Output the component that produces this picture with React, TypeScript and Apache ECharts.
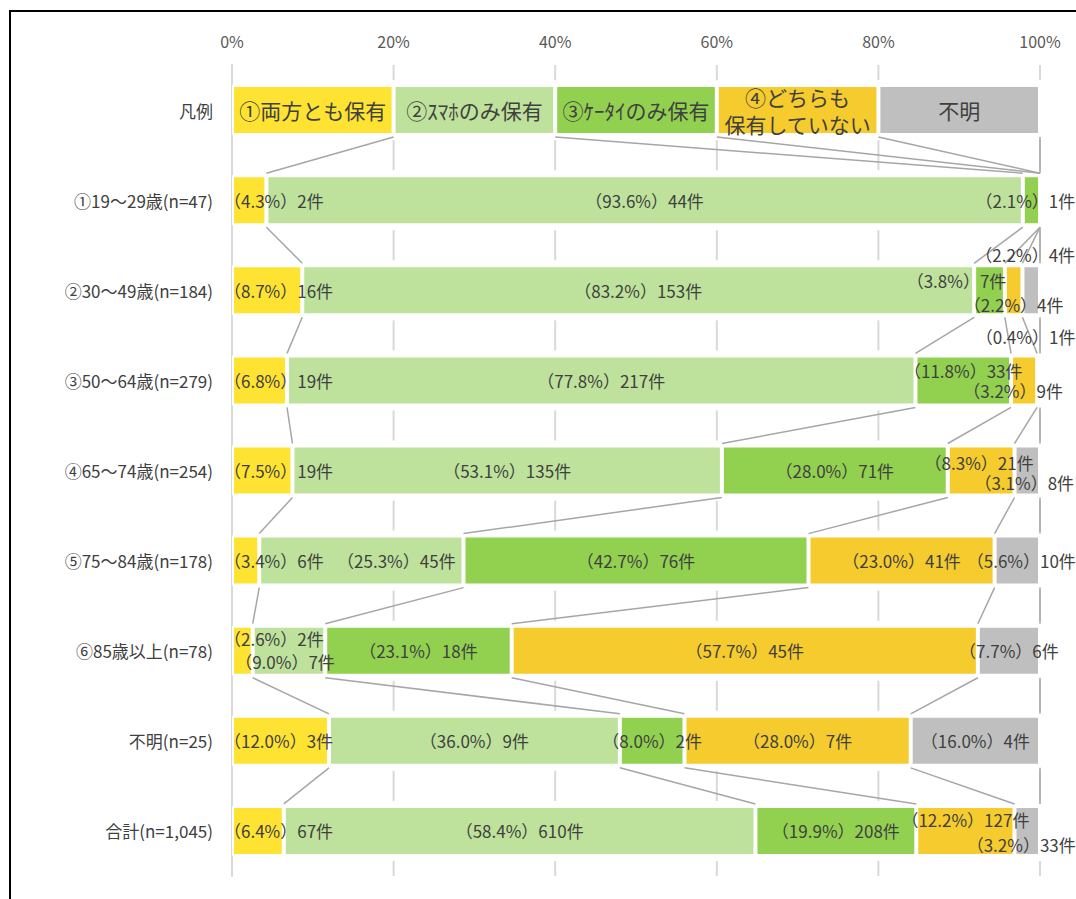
import React, { useEffect, useRef } from 'react';
import * as echarts from 'echarts';

// ---- data ----
const categories = [
  '凡例',
  '①19～29歳(n=47)',
  '②30～49歳(n=184)',
  '③50～64歳(n=279)',
  '④65～74歳(n=254)',
  '⑤75～84歳(n=178)',
  '⑥85歳以上(n=78)',
  '不明(n=25)',
  '合計(n=1,045)',
];
const seriesNames = ['①両方とも保有', '②ｽﾏﾎのみ保有', '③ｹｰﾀｲのみ保有', '④どちらも\n保有していない', '不明'];
const legendRowShare = [20, 20, 20, 20, 20];
const bothOwned = [2, 16, 19, 19, 6, 2, 3, 67];
const smartphoneOnly = [44, 153, 217, 135, 45, 7, 9, 610];
const keitaiOnly = [1, 7, 33, 71, 76, 18, 2, 208];
const neitherOwned = [0, 4, 9, 21, 41, 45, 7, 127];
const unknownAnswer = [0, 4, 1, 8, 10, 6, 4, 33];
const respondents = [47, 184, 279, 254, 178, 78, 25, 1045];
const xTicks = [0, 20, 40, 60, 80, 100];

// ---- styling ----
const colors = ['#FFE333', '#BEE29B', '#92D050', '#F5CB2D', '#BFBFBF'];
const textColor = '#404040';
const gridColor = '#D9D9D9';
const FONT = '"Noto Sans CJK JP", "Noto Sans", sans-serif';
const BAR_W = 50;
const BORDER_W = 2;
// label nudges "row-series" -> [dx, dy] (row = data row index)
const labelNudge: Record<string, [number, number]> = {
  '0-2': [-6, 0],
  '1-2': [-33, -10], '1-3': [0, 14], '1-4': [-6, -36],
  '2-2': [0, -10], '2-3': [-11, 10], '2-4': [-13, -44],
  '3-3': [-2, -8], '3-4': [-3, 12],
  '4-1': [35, 0], '4-4': [4, 0],
  '5-0': [0, -12], '5-1': [-4, 11],
  '7-3': [0, -11], '7-4': [-6, 14],
};

export default function App() {
  const ref = useRef<HTMLDivElement>(null);
  useEffect(() => {
    document.body.style.margin = '0';
    if (!ref.current) return;
    const chart = echarts.init(ref.current, undefined, { renderer: 'svg' });
    const counts = [bothOwned, smartphoneOnly, keitaiOnly, neitherOwned, unknownAnswer];
    const pct = counts.map((arr) => arr.map((c, r) => (c / respondents[r]) * 100));
    const lastRow = categories.length - 1;
    const halfBar = BAR_W / 2;

    const series: any[] = counts.map((arr, s) => {
      const data: any[] = [
        {
          value: legendRowShare[s],
          label: {
            show: true,
            position: 'inside',
            formatter: seriesNames[s],
            fontSize: 21,
            lineHeight: 27,
            color: textColor,
            fontFamily: FONT,
          },
        },
      ];
      arr.forEach((c, r) => {
        const v = pct[s][r];
        const nudge = labelNudge[`${r}-${s}`] || [0, 0];
        const pinLeft = s === 0;
        data.push({
          value: v,
          label: {
            show: c > 0,
            formatter: `（${v.toFixed(1)}%）${c}件`,
            position: pinLeft ? [-8, '50%'] : 'inside',
            align: pinLeft ? 'left' : 'center',
            verticalAlign: 'middle',
            offset: nudge,
          },
        });
      });
      return {
        type: 'bar',
        name: seriesNames[s],
        stack: 'total',
        barWidth: BAR_W,
        z: 3,
        itemStyle: { color: colors[s], borderColor: '#ffffff', borderWidth: BORDER_W },
        label: {
          show: true,
          color: textColor,
          fontSize: 17,
          fontFamily: FONT,
        },
        data,
      };
    });

    // vertical gridlines (broken around the bars)
    const gridData: number[][] = [];
    xTicks.slice(1).forEach((t) => {
      for (let seg = 0; seg <= categories.length; seg++) gridData.push([t, seg, 0]);
    });
    series.push({
      type: 'custom',
      name: 'gridlines',
      z: 1,
      silent: true,
      encode: { x: 0, y: 2 },
      renderItem: (params: any, api: any) => {
        const t = api.value(0);
        const seg = api.value(1);
        const band = api.size([0, 1])[1];
        const gap = 5;
        let y1: number;
        let y2: number;
        const x = api.coord([t, 0])[0];
        if (seg === 0) {
          const c = api.coord([t, 0])[1];
          y1 = c - band / 2;
          y2 = c - halfBar - gap;
        } else if (seg === categories.length) {
          const c = api.coord([t, lastRow])[1];
          y1 = c + halfBar + gap;
          y2 = c + band / 2;
        } else {
          y1 = api.coord([t, seg - 1])[1] + halfBar + gap;
          y2 = api.coord([t, seg])[1] - halfBar - gap;
        }
        return {
          type: 'line',
          shape: { x1: x, y1, x2: x, y2 },
          style: { stroke: gridColor, lineWidth: 2 },
        };
      },
      data: gridData,
    });

    // series lines between consecutive rows
    const cumRows: number[][] = [];
    cumRows.push(legendRowShare.map((_, k) => legendRowShare.slice(0, k + 1).reduce((a, b) => a + b, 0)));
    respondents.forEach((_, r) => {
      let acc = 0;
      cumRows.push(pct.map((col) => (acc += col[r])));
    });
    const lineData: number[][] = [];
    for (let i = 0; i < cumRows.length - 1; i++) {
      for (let k = 0; k < 5; k++) {
        lineData.push([Math.min(cumRows[i][k], 100), Math.min(cumRows[i + 1][k], 100), i]);
      }
    }
    series.push({
      type: 'custom',
      name: 'series-lines',
      z: 2,
      silent: true,
      encode: { x: [0, 1], y: 2 },
      renderItem: (params: any, api: any) => {
        const row = api.value(2);
        const a = api.coord([api.value(0), row]);
        const b = api.coord([api.value(1), row + 1]);
        const half = halfBar + 2;
        return {
          type: 'line',
          shape: { x1: a[0], y1: a[1] + half, x2: b[0], y2: b[1] - half },
          style: { stroke: '#A6A6A6', lineWidth: 1.5 },
        };
      },
      data: lineData,
    });

    chart.setOption({
      animation: false,
      backgroundColor: '#ffffff',
      textStyle: { fontFamily: FONT },
      graphic: [
        {
          type: 'rect',
          z: 100,
          silent: true,
          shape: { x: 10, y: 11, width: 1200, height: 1000 },
          style: { fill: 'none', stroke: '#000000', lineWidth: 2 },
        },
      ],
      grid: { left: 232, right: 36, top: 65, height: 811 },
      xAxis: {
        type: 'value',
        position: 'top',
        min: xTicks[0],
        max: xTicks[xTicks.length - 1],
        interval: xTicks[1] - xTicks[0],
        axisLine: { show: false },
        axisTick: { show: false },
        axisLabel: { formatter: '{value}%', color: '#595959', fontSize: 16, margin: 16, fontFamily: FONT },
        splitLine: { show: false },
      },
      yAxis: {
        type: 'category',
        inverse: true,
        data: categories,
        axisLine: { show: true, lineStyle: { color: gridColor, width: 2 } },
        axisTick: { show: false },
        axisLabel: { color: textColor, fontSize: 17, margin: 19, fontFamily: FONT },
      },
      series,
    });
    return () => chart.dispose();
  }, []);
  return <div ref={ref} style={{ width: 1076, height: 899 }} />;
}
